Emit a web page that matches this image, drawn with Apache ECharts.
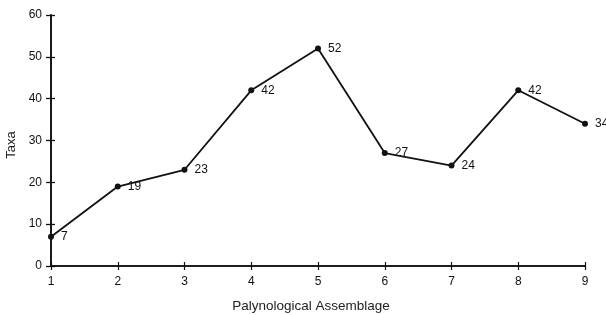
<!DOCTYPE html>
<html>
<head>
<meta charset="utf-8">
<script src="https://cdn.jsdelivr.net/npm/echarts@6/dist/echarts.min.js"></script>
<style>
html,body{margin:0;padding:0;background:#fff;}
#chart{width:606px;height:315px;}
</style>
</head>
<body>
<div id="chart"></div>
<script>
// assemblages and taxa counts
var assemblages = [1, 2, 3, 4, 5, 6, 7, 8, 9];
var taxa = [7, 19, 23, 42, 52, 27, 24, 42, 34];
var yTicks = [0, 10, 20, 30, 40, 50, 60];

var points = assemblages.map(function (a, i) { return [a, taxa[i]]; });
var font = 'Liberation Sans, Arial, sans-serif';

var chart = echarts.init(document.getElementById('chart'));
var axisCommon = {
	axisLine: { lineStyle: { color: '#111', width: 1.6 } },
	splitLine: { show: false }
};
chart.setOption({
	animation: false,
	grid: { left: 51, right: 21, top: 15, bottom: 49, containLabel: false, outerBoundsMode: 'none' },
	xAxis: [
		Object.assign({
			type: 'value', min: 1, max: 9, interval: 1,
			name: 'Palynological Assemblage', nameLocation: 'middle', nameGap: 33,
			nameTextStyle: { color: '#222', fontSize: 13.5, fontFamily: font, padding: [0, 14, 0, 0] },
			axisTick: { show: true, length: 4, lineStyle: { color: '#111', width: 1.2 } },
			axisLabel: { color: '#111', fontSize: 12, fontFamily: font, margin: 10 }
		}, axisCommon),
		Object.assign({
			type: 'value', min: 1, max: 9, interval: 1, position: 'bottom',
			axisTick: { show: true, inside: true, length: 4, lineStyle: { color: '#111', width: 1.2 } },
			axisLabel: { show: false }
		}, axisCommon)
	],
	yAxis: [
		Object.assign({
			type: 'value', min: 0, max: 60, interval: 10,
			name: 'Taxa', nameLocation: 'middle', nameGap: 30, nameRotate: 90,
			nameTextStyle: { color: '#222', fontSize: 13, fontFamily: font, padding: [0, 9, 0, 0] },
			axisTick: { show: true, length: 5, lineStyle: { color: '#111', width: 1.3 } },
			axisLabel: { color: '#111', fontSize: 12, fontFamily: font, margin: 9,
				formatter: function (v) { return yTicks.indexOf(v) >= 0 ? v : ''; } }
		}, axisCommon),
		Object.assign({
			type: 'value', min: 0, max: 60, interval: 10, position: 'left',
			axisTick: { show: true, inside: true, length: 4, lineStyle: { color: '#111', width: 1.3 } },
			axisLabel: { show: false }
		}, axisCommon)
	],
	series: [{
		type: 'line',
		data: points,
		symbol: 'circle',
		symbolSize: 6,
		itemStyle: { color: '#111' },
		lineStyle: { color: '#111', width: 1.8 },
		label: {
			show: true, position: 'right', distance: 7,
			color: '#111', fontSize: 12, fontFamily: font,
			formatter: function (p) { return p.value[1]; }
		}
	}]
});
</script>
</body>
</html>
